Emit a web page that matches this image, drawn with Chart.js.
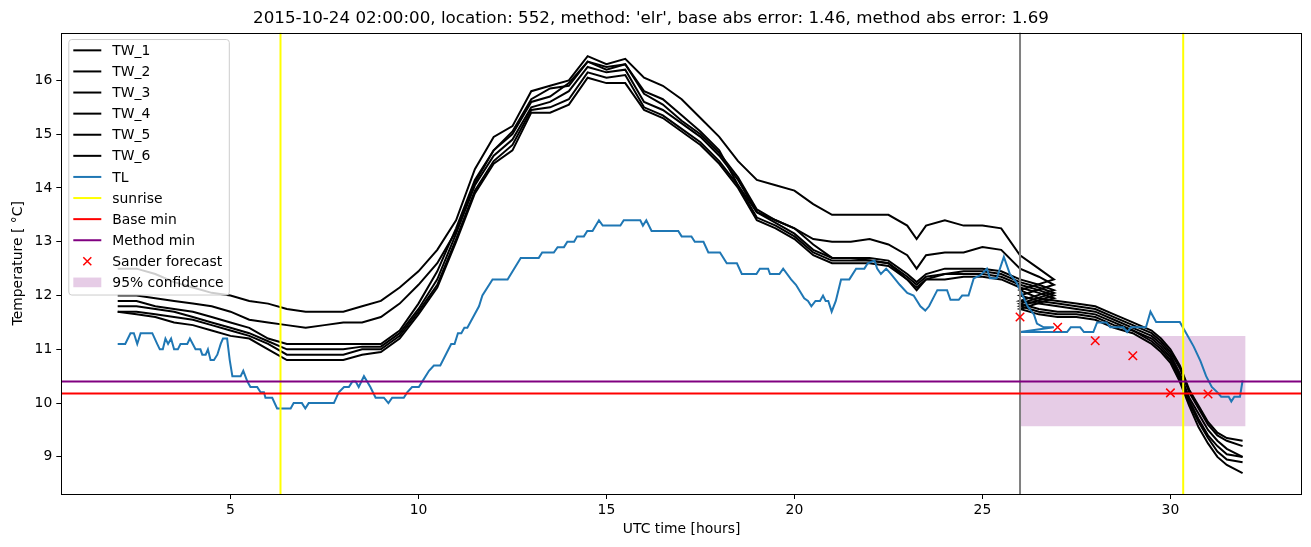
<!DOCTYPE html>
<html lang="en">
<head>
    <meta charset="UTF-8">
    <title>Temperature forecast</title>
    <script src="https://cdn.jsdelivr.net/npm/chart.js"></script>
    <style>
        body { margin: 0; background: #fff; }
        canvas { display: block; }
    </style>
</head>
<body>
    <canvas id="tempChart" width="1311" height="547"></canvas>
    <script>
        // observed part of the wet-bulb series (hours since 2015-10-24 00:00 UTC)
        const obsHours = [
            2, 2.5, 3, 3.5, 4, 4.5, 5, 5.5,
            6, 6.5, 7, 7.5, 8, 8.5, 9, 9.5,
            10, 10.5, 11, 11.5, 12, 12.5, 13, 13.5,
            14, 14.5, 15, 15.5, 16, 16.5, 17, 17.5,
            18, 18.5, 19, 19.5, 20, 20.5, 21, 21.5,
            22, 22.5, 23, 23.25, 23.5, 24, 24.5, 25,
            25.5, 26, 26.5, 26.9
        ];
        const tw1Obs = [
            12.5, 12.5, 12.4, 12.25, 12.15, 12.05, 12.0, 11.9,
            11.85, 11.75, 11.7, 11.7, 11.7, 11.8, 11.9, 12.15,
            12.45, 12.85, 13.4, 14.35, 14.95, 15.15, 15.8, 15.9,
            16.0, 16.45, 16.3, 16.4, 16.05, 15.9, 15.65, 15.3,
            14.95, 14.5, 14.15, 14.05, 13.95, 13.7, 13.5, 13.5,
            13.5, 13.5, 13.3, 13.05, 13.3, 13.4, 13.3, 13.3,
            13.25, 12.75, 12.5, 12.3
        ];
        const tw2Obs = [
            12.0, 12.0, 11.95, 11.9, 11.85, 11.8, 11.7, 11.55,
            11.5, 11.45, 11.4, 11.45, 11.5, 11.5, 11.6, 11.85,
            12.2, 12.6, 13.2, 14.1, 14.7, 15.05, 15.65, 15.85,
            15.9, 16.35, 16.25, 16.3, 15.8, 15.65, 15.35, 15.05,
            14.7, 14.05, 13.55, 13.4, 13.25, 13.05, 13.0, 13.0,
            13.05, 12.95, 12.75, 12.5, 12.75, 12.8, 12.8, 12.9,
            12.85, 12.5, 12.35, 12.2
        ];
        const tw3Obs = [
            11.9, 11.9, 11.8, 11.75, 11.7, 11.6, 11.5, 11.4,
            11.2, 11.1, 11.1, 11.1, 11.1, 11.1, 11.1, 11.35,
            11.85, 12.45, 13.25, 14.15, 14.7, 15.0, 15.6, 15.7,
            15.95, 16.35, 16.2, 16.3, 15.75, 15.55, 15.25, 15.0,
            14.65, 14.2, 13.6, 13.4, 13.25, 12.95, 12.7, 12.7,
            12.7, 12.65, 12.4, 12.25, 12.4, 12.5, 12.5, 12.5,
            12.45, 12.3, 12.2, 12.1
        ];
        const tw4Obs = [
            11.8, 11.8, 11.75, 11.7, 11.6, 11.5, 11.4, 11.3,
            11.15, 11.0, 11.0, 11.0, 11.0, 11.05, 11.05, 11.3,
            11.75, 12.3, 13.15, 14.05, 14.6, 14.9, 15.5, 15.6,
            15.8, 16.25, 16.15, 16.2, 15.6, 15.45, 15.2, 14.95,
            14.6, 14.15, 13.55, 13.35, 13.15, 12.85, 12.7, 12.7,
            12.65, 12.6, 12.35, 12.2, 12.35, 12.4, 12.45, 12.45,
            12.4, 12.25, 12.15, 12.05
        ];
        const tw5Obs = [
            11.7, 11.7, 11.65, 11.6, 11.55, 11.45, 11.35, 11.25,
            11.1, 10.9, 10.9, 10.9, 10.9, 11.0, 11.0, 11.25,
            11.7, 12.2, 13.05, 13.95, 14.5, 14.8, 15.45, 15.5,
            15.65, 16.15, 16.05, 16.1, 15.5, 15.35, 15.1, 14.85,
            14.5, 14.05, 13.45, 13.3, 13.1, 12.8, 12.65, 12.65,
            12.65, 12.6, 12.3, 12.15, 12.3, 12.4, 12.4, 12.4,
            12.35, 12.2, 12.1, 12.0
        ];
        const tw6Obs = [
            11.7, 11.65, 11.6, 11.5, 11.45, 11.35, 11.25, 11.2,
            11.0, 10.8, 10.8, 10.8, 10.8, 10.9, 10.95, 11.2,
            11.65, 12.15, 13.0, 13.9, 14.45, 14.7, 15.4, 15.4,
            15.55, 16.05, 15.95, 15.95, 15.45, 15.3, 15.05, 14.8,
            14.45, 14.0, 13.4, 13.25, 13.05, 12.75, 12.6, 12.6,
            12.6, 12.55, 12.3, 12.1, 12.3, 12.3, 12.35, 12.35,
            12.3, 12.15, 12.05, 11.95
        ];

        // forecast part, restarting at the forecast time
        const fcHours = [26, 26.5, 27, 27.5, 28, 28.5, 29, 29.5, 29.75, 30, 30.25, 30.5, 30.75, 31, 31.25, 31.5, 31.92];
        const tw1Fc = [12.1, 11.95, 11.9, 11.85, 11.8, 11.65, 11.5, 11.35, 11.2, 11.0, 10.7, 10.25, 9.95, 9.65, 9.45, 9.35, 9.3];
        const tw2Fc = [12.0, 11.9, 11.85, 11.8, 11.75, 11.6, 11.45, 11.3, 11.15, 10.95, 10.65, 10.2, 9.9, 9.6, 9.4, 9.3, 9.2];
        const tw3Fc = [11.9, 11.85, 11.8, 11.75, 11.7, 11.55, 11.4, 11.25, 11.1, 10.9, 10.55, 10.1, 9.8, 9.5, 9.3, 9.15, 9.0];
        const tw4Fc = [11.85, 11.75, 11.7, 11.7, 11.65, 11.5, 11.35, 11.2, 11.05, 10.85, 10.5, 10.05, 9.7, 9.4, 9.2, 9.05, 9.0];
        const tw5Fc = [11.8, 11.7, 11.65, 11.65, 11.6, 11.45, 11.35, 11.15, 11.0, 10.8, 10.45, 10.0, 9.65, 9.35, 9.1, 8.95, 8.9];
        const tw6Fc = [11.75, 11.65, 11.6, 11.6, 11.55, 11.4, 11.3, 11.1, 10.95, 10.75, 10.4, 9.95, 9.55, 9.25, 9.0, 8.85, 8.7];

        // TL as [hour, temperature] pairs
        const tlObserved = [
            [2.0, 11.1], [2.2, 11.1], [2.34, 11.3], [2.43, 11.3], [2.52, 11.1], [2.61, 11.3], [2.92, 11.3],
            [3.05, 11.1], [3.12, 11.0], [3.2, 11.0], [3.27, 11.2], [3.34, 11.1], [3.42, 11.2], [3.5, 11.0],
            [3.6, 11.0], [3.67, 11.1], [3.85, 11.1], [3.92, 11.2], [4.07, 11.0], [4.2, 11.0], [4.25, 10.9],
            [4.34, 10.9], [4.4, 11.0], [4.47, 10.8], [4.56, 10.8], [4.65, 10.9], [4.74, 11.1], [4.8, 11.2],
            [4.91, 11.2], [4.98, 10.8], [5.05, 10.5], [5.27, 10.5], [5.34, 10.6], [5.45, 10.4], [5.53, 10.3],
            [5.71, 10.3], [5.8, 10.2], [5.89, 10.2], [5.93, 10.1], [6.11, 10.1], [6.24, 9.9], [6.6, 9.9],
            [6.68, 10.0], [6.9, 10.0], [6.99, 9.9], [7.08, 10.0], [7.75, 10.0], [7.88, 10.2], [8.02, 10.3],
            [8.15, 10.3], [8.24, 10.4], [8.33, 10.4], [8.41, 10.3], [8.55, 10.5], [8.72, 10.3], [8.86, 10.1],
            [9.08, 10.1], [9.2, 10.0], [9.3, 10.1], [9.61, 10.1], [9.7, 10.2], [9.83, 10.3], [10.01, 10.3],
            [10.1, 10.4], [10.28, 10.6], [10.41, 10.7], [10.58, 10.7], [10.87, 11.1], [10.96, 11.1], [11.05, 11.3],
            [11.14, 11.3], [11.22, 11.4], [11.3, 11.4], [11.61, 11.8], [11.7, 12.0], [11.97, 12.3], [12.37, 12.3],
            [12.72, 12.7], [13.2, 12.7], [13.29, 12.8], [13.6, 12.8], [13.7, 12.9], [13.87, 12.9], [13.96, 13.0],
            [14.14, 13.0], [14.22, 13.1], [14.4, 13.1], [14.49, 13.2], [14.63, 13.2], [14.8, 13.4], [14.9, 13.3],
            [15.37, 13.3], [15.46, 13.4], [15.9, 13.4], [15.97, 13.3], [16.06, 13.4], [16.2, 13.2], [16.91, 13.2],
            [17.0, 13.1], [17.26, 13.1], [17.35, 13.0], [17.58, 13.0], [17.71, 12.8], [18.02, 12.8], [18.2, 12.6],
            [18.47, 12.6], [18.6, 12.4], [18.99, 12.4], [19.08, 12.5], [19.3, 12.5], [19.35, 12.4], [19.6, 12.4],
            [19.7, 12.5], [19.91, 12.3], [20.04, 12.2], [20.26, 11.95], [20.36, 11.9], [20.45, 11.8], [20.56, 11.9],
            [20.68, 11.9], [20.76, 12.0], [20.83, 11.9], [20.9, 11.9], [20.99, 11.7], [21.1, 11.9], [21.24, 12.3],
            [21.46, 12.3], [21.64, 12.5], [21.86, 12.5], [21.95, 12.6], [22.13, 12.65], [22.2, 12.5], [22.3, 12.4],
            [22.44, 12.5], [22.57, 12.4], [22.8, 12.2], [23.0, 12.05], [23.17, 12.0], [23.35, 11.8], [23.48, 11.72],
            [23.58, 11.8], [23.8, 12.1], [24.06, 12.1], [24.15, 11.92], [24.37, 11.92], [24.46, 12.0], [24.63, 12.0],
            [24.77, 12.32], [24.95, 12.38], [25.12, 12.5], [25.2, 12.32], [25.38, 12.32], [25.57, 12.72], [25.73, 12.4],
            [25.9, 12.25], [26.07, 12.0], [26.2, 11.8], [26.37, 11.65], [26.45, 11.48], [26.63, 11.41], [26.9, 11.41]
        ];
        const tlForecast = [
            [26.0, 11.32], [27.25, 11.32], [27.35, 11.41], [27.6, 11.41], [27.7, 11.32], [27.95, 11.32],
            [28.05, 11.5], [28.3, 11.5], [28.4, 11.41], [28.75, 11.41], [28.85, 11.32], [28.95, 11.41],
            [29.35, 11.41], [29.47, 11.7], [29.62, 11.51], [30.25, 11.51], [30.42, 11.3], [30.62, 11.05],
            [30.8, 10.78], [30.95, 10.5], [31.1, 10.3], [31.25, 10.2], [31.35, 10.12], [31.55, 10.12],
            [31.62, 10.03], [31.7, 10.12], [31.85, 10.12], [31.92, 10.42]
        ];

        const sunriseHours = [6.33, 30.34];
        const forecastHour = 26.0;
        const baseMin = 10.18;
        const methodMin = 10.40;
        const sanderHours = [26, 27, 28, 29, 30, 31];
        const sanderTemps = [11.6, 11.41, 11.16, 10.88, 10.19, 10.17];
        const confHours = [26, 32];
        const confLow = 9.57;
        const confHigh = 11.25;

        const xTicks = [5, 10, 15, 20, 25, 30];
        const yTicks = [9, 10, 11, 12, 13, 14, 15, 16];
        const X_MIN = 0.5, X_MAX = 33.5;
        const Y_MIN = 8.31, Y_MAX = 16.89;

        const twLabels = ['TW_1', 'TW_2', 'TW_3', 'TW_4', 'TW_5', 'TW_6'];
        const twObs = [tw1Obs, tw2Obs, tw3Obs, tw4Obs, tw5Obs, tw6Obs];
        const twFc = [tw1Fc, tw2Fc, tw3Fc, tw4Fc, tw5Fc, tw6Fc];

        const TL_BLUE = '#1f77b4';
        const FONT = '"DejaVu Sans", sans-serif';

        function pts(hours, vals) {
            return hours.map((h, i) => ({ x: h, y: vals[i] }));
        }
        function pairs(list) {
            return list.map(p => ({ x: p[0], y: p[1] }));
        }
        function line(label, data, color, order, width) {
            return {
                label: label, data: data, borderColor: color, backgroundColor: color,
                borderWidth: width || 2, pointRadius: 0, tension: 0, fill: false, order: order
            };
        }

        const datasets = [];
        datasets.push({
            label: '95% confidence',
            data: pts(confHours, [confHigh, confHigh]),
            borderWidth: 0, pointRadius: 0, borderColor: 'rgba(0,0,0,0)',
            backgroundColor: 'rgba(128,0,128,0.2)',
            fill: { value: confLow }, order: 10
        });
        twLabels.forEach((lab, k) => {
            datasets.push(line(lab, pts(obsHours, twObs[k]).concat(pts(fcHours, twFc[k])), '#000000', 9));
        });
        datasets.push(line('TL', pairs(tlObserved).concat(pairs(tlForecast)), TL_BLUE, 8));
        sunriseHours.forEach((h, i) => {
            datasets.push(line(i === 0 ? 'sunrise' : '', [{ x: h, y: Y_MIN }, { x: h, y: Y_MAX }], '#ffff00', 7));
        });
        datasets.push(line('', [{ x: forecastHour, y: Y_MIN }, { x: forecastHour, y: Y_MAX }], '#808080', 6));
        datasets.push(line('Base min', [{ x: X_MIN, y: baseMin }, { x: X_MAX, y: baseMin }], '#ff0000', 5));
        datasets.push(line('Method min', [{ x: X_MIN, y: methodMin }, { x: X_MAX, y: methodMin }], '#800080', 4));
        datasets.push({
            label: 'Sander forecast',
            data: pts(sanderHours, sanderTemps),
            showLine: false, pointStyle: 'crossRot', pointRadius: 6,
            borderColor: '#ff0000', backgroundColor: '#ff0000', pointBorderWidth: 1.5, order: 3
        });

        const legendItems = twLabels.map(l => ({ label: l, kind: 'line', color: '#000000' })).concat([
            { label: 'TL', kind: 'line', color: TL_BLUE },
            { label: 'sunrise', kind: 'line', color: '#ffff00' },
            { label: 'Base min', kind: 'line', color: '#ff0000' },
            { label: 'Method min', kind: 'line', color: '#800080' },
            { label: 'Sander forecast', kind: 'cross', color: '#ff0000' },
            { label: '95% confidence', kind: 'patch', color: 'rgba(128,0,128,0.2)' }
        ]);

        // frame on all four sides + matplotlib-like legend box
        const frameAndLegend = {
            id: 'frameAndLegend',
            afterDraw(chart) {
                const { ctx, chartArea: a } = chart;
                ctx.save();
                ctx.strokeStyle = '#000';
                ctx.lineWidth = 1;
                ctx.strokeRect(Math.round(a.left) + 0.5, Math.round(a.top) + 0.5,
                    Math.round(a.right - a.left) - 1, Math.round(a.bottom - a.top));

                const bx = a.left + 7.5, by = a.top + 7, bw = 160.5, bh = 255.5;
                ctx.beginPath();
                ctx.roundRect(bx, by, bw, bh, 3);
                ctx.fillStyle = 'rgba(255,255,255,0.8)';
                ctx.fill();
                ctx.strokeStyle = '#cccccc';
                ctx.stroke();

                ctx.font = '13.9px ' + FONT;
                ctx.textBaseline = 'middle';
                ctx.textAlign = 'left';
                legendItems.forEach((it, i) => {
                    const y = by + 10.8 + i * 21.1;
                    const hx = bx + 4.5;
                    if (it.kind === 'line') {
                        ctx.strokeStyle = it.color;
                        ctx.lineWidth = 2;
                        ctx.beginPath();
                        ctx.moveTo(hx, y);
                        ctx.lineTo(hx + 28, y);
                        ctx.stroke();
                    } else if (it.kind === 'cross') {
                        const cx = hx + 14, r = 4;
                        ctx.strokeStyle = it.color;
                        ctx.lineWidth = 1.5;
                        ctx.beginPath();
                        ctx.moveTo(cx - r, y - r); ctx.lineTo(cx + r, y + r);
                        ctx.moveTo(cx - r, y + r); ctx.lineTo(cx + r, y - r);
                        ctx.stroke();
                    } else {
                        ctx.fillStyle = it.color;
                        ctx.fillRect(hx, y - 4.9, 28, 9.7);
                    }
                    ctx.fillStyle = '#000';
                    ctx.fillText(it.label, bx + 43.5, y + 1);
                });
                ctx.restore();
            }
        };

        Chart.defaults.font.family = FONT;
        Chart.defaults.font.size = 13.9;
        Chart.defaults.color = '#000';

        const ctx = document.getElementById('tempChart').getContext('2d');
        const chart = new Chart(ctx, {
            type: 'line',
            data: { datasets: datasets },
            options: {
                responsive: false,
                animation: false,
                events: [],
                layout: { padding: { left: 0, right: 9, top: 0, bottom: 0 } },
                plugins: {
                    legend: { display: false },
                    tooltip: { enabled: false },
                    title: {
                        display: true,
                        text: "2015-10-24 02:00:00, location: 552, method: 'elr', base abs error: 1.46, method abs error: 1.69",
                        font: { size: 16.7, weight: 'normal' },
                        color: '#000',
                        padding: { top: 9, bottom: 3.5 }
                    }
                },
                scales: {
                    x: {
                        type: 'linear',
                        min: X_MIN, max: X_MAX,
                        afterBuildTicks: s => { s.ticks = xTicks.map(v => ({ value: v })); },
                        afterFit: s => { s.height = 53; },
                        ticks: { padding: 3, maxRotation: 0 },
                        grid: { drawOnChartArea: false, drawTicks: true, tickLength: 5, color: '#000' },
                        border: { display: false },
                        title: { display: true, text: 'UTC time [hours]', padding: { top: 0, bottom: 9.7 } }
                    },
                    y: {
                        type: 'linear',
                        min: Y_MIN, max: Y_MAX,
                        afterBuildTicks: s => { s.ticks = yTicks.map(v => ({ value: v })); },
                        afterFit: s => { s.width = 61.3; },
                        ticks: { padding: 4 },
                        grid: { drawOnChartArea: false, drawTicks: true, tickLength: 5, color: '#000' },
                        border: { display: false },
                        title: { display: true, text: 'Temperature [ °C]', padding: { top: 9.7, bottom: 0 } }
                    }
                }
            },
            plugins: [frameAndLegend]
        });
    </script>
</body>
</html>
